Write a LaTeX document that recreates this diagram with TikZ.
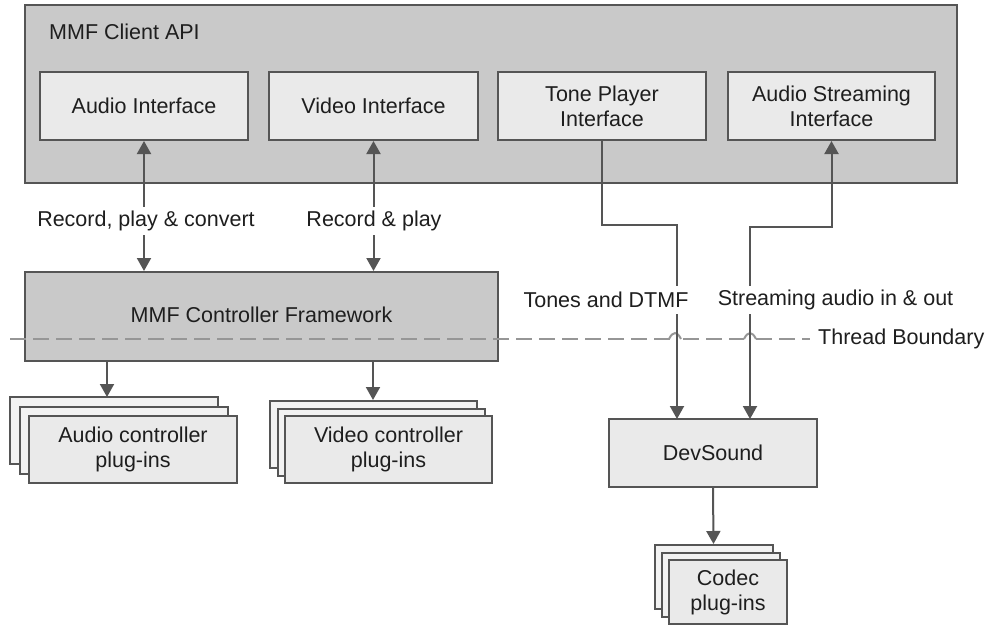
\documentclass[tikz,border=0pt]{standalone}
\usepackage{fontspec}
\setmainfont{Liberation Sans}
\usetikzlibrary{arrows.meta}
\definecolor{outerfill}{RGB}{201,201,201}
\definecolor{boxfill}{RGB}{234,234,234}
\definecolor{backfill}{RGB}{242,242,242}
\definecolor{edgec}{RGB}{85,85,85}
\definecolor{dashc}{RGB}{150,150,150}
\definecolor{textc}{RGB}{30,30,30}
\begin{document}
\begin{tikzpicture}[x=1pt,y=-1pt,
  font=\fontsize{21.5}{25}\selectfont,
  every node/.style={text=textc},
  box/.style={draw=edgec, line width=2pt, fill=boxfill, align=center, inner sep=0pt},
  darkbox/.style={box, fill=outerfill},
  backbox/.style={box, fill=backfill},
  conn/.style={draw=edgec, line width=2pt, -{Triangle[length=13pt,width=14pt]}},
  bothconn/.style={draw=edgec, line width=2pt, {Triangle[length=13pt,width=14pt]}-{Triangle[length=13pt,width=14pt]}},
  plainconn/.style={draw=edgec, line width=2pt},
  lbl/.style={fill=white, inner sep=2pt, minimum height=28pt},
  bound/.style={draw=dashc, line width=2.5pt, dash pattern=on 16pt off 7pt}
]
\useasboundingbox (0,0) rectangle (993,626);

% MMF Client API
\node[darkbox, minimum width=932pt, minimum height=178pt] (api) at (491,94) {};
\node[anchor=west, inner sep=0pt] (title) at (49,32) {MMF Client API};
\node[box, minimum width=208pt, minimum height=68pt] (ai) at (144,106) {Audio Interface};
\node[box, minimum width=209pt, minimum height=68pt] (vi) at (373.5,106) {Video Interface};
\node[box, minimum width=208pt, minimum height=68pt] (tp) at (602,106) {Tone Player\\Interface};
\node[box, minimum width=207pt, minimum height=68pt] (as) at (831.5,106) {Audio Streaming\\Interface};

% Controller framework
\node[darkbox, minimum width=473pt, minimum height=89pt] (cf) at (261.5,316.5) {};
\node[inner sep=0pt] (cft) at (261.5,315) {MMF Controller Framework};

% Plug-in stacks
\node[backbox, minimum width=208pt, minimum height=67pt] (apb) at (114,430.5) {};
\node[backbox, minimum width=208pt, minimum height=67pt] (apm) at (123.5,440) {};
\node[box, minimum width=208pt, minimum height=67pt] (apf) at (133,449.5) {Audio controller\\plug-ins};

\node[backbox, minimum width=207pt, minimum height=67pt] (vpb) at (373,434.5) {};
\node[backbox, minimum width=207pt, minimum height=67pt] (vpm) at (381,442) {};
\node[box, minimum width=207pt, minimum height=67pt] (vpf) at (388.5,449.5) {Video controller\\plug-ins};

% DevSound and codecs
\node[box, minimum width=208pt, minimum height=68pt] (ds) at (713,453) {DevSound};
\node[backbox, minimum width=118pt, minimum height=64pt] (cpb) at (713.5,577) {};
\node[backbox, minimum width=118pt, minimum height=64pt] (cpm) at (720.5,584.5) {};
\node[box, minimum width=118pt, minimum height=64pt] (cpf) at (728,592) {Codec\\plug-ins};

% helper coordinates
\coordinate (tbend) at (0,225);
\coordinate (sbend) at (0,227);
\coordinate (dsa) at (677,419);
\coordinate (dsb) at (750,419);
\coordinate (ain) at (107,397);

% Thread boundary
\draw[bound] (10,339) -- (671,339);
\draw[bound] (683,339) -- (744,339);
\draw[bound] (756,339) -- (810,339);
\draw[draw=dashc, line width=2pt] (669,339) .. controls (673,331) and (677,331) .. (681,339);
\draw[draw=dashc, line width=2pt] (744,339) .. controls (748,331) and (752,331) .. (756,339);
\node[anchor=west, inner sep=0pt] (tb) at (818,339) {Thread Boundary};

% Connectors
\draw[bothconn] (ai.south) -- (ai.south |- cf.north);
\draw[bothconn] (vi.south) -- (vi.south |- cf.north);
\draw[conn] (tp.south) -- (tp.south |- tbend) -| (dsa);
\draw[bothconn] (as.south) -- (as.south |- sbend) -| (dsb);
\draw[conn] (ain |- cf.south) -- (ain);
\draw[conn] (vpb.north |- cf.south) -- (vpb.north);
\draw[conn] (ds.south) -- (cpb.north);

% Labels
\node[lbl] (l1) at (146,221) {Record, play \& convert};
\node[lbl] (l2) at (374,221) {Record \& play};
\node[lbl] (l3) at (606,300) {Tones and DTMF};
\node[lbl] (l4) at (835.5,300) {Streaming audio in \& out};
\end{tikzpicture}
\end{document}
